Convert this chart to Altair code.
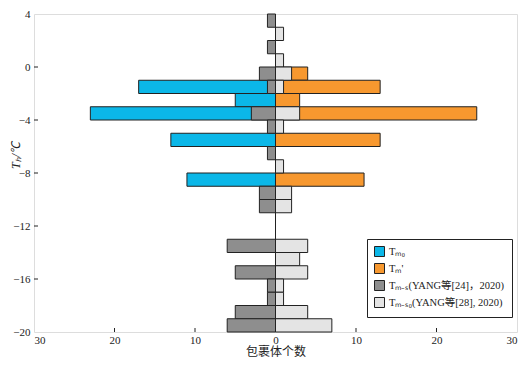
import altair as alt
import pandas as pd

# bin tops (each bin 1 °C tall: top -> top-1)
blue_tops = [-1, -2, -3, -5, -8]
blue_vals = [17, 5, 23, 13, 11]

orange_tops = [0, -1, -2, -3, -5, -8]
orange_vals = [4, 13, 3, 25, 13, 11]

dgray_tops = [4, 2, 0, -1, -3, -4, -6, -9, -10, -13, -15, -16, -17, -18, -19]
dgray_vals = [1, 1, 2, 1, 3, 1, 1, 2, 2, 6, 5, 1, 1, 5, 6]

lgray_tops = [3, 1, 0, -1, -3, -4, -7, -9, -10, -13, -14, -15, -16, -17, -18, -19]
lgray_vals = [1, 1, 2, 1, 3, 1, 1, 2, 2, 4, 3, 4, 1, 1, 4, 7]

names = ["Tₘ₀", "Tₘ'", "Tₘ₋ₛ(YANG等[24]，2020)", "Tₘ₋ₛ₀(YANG等[28], 2020)"]
colors = ["#0bb7e8", "#f7982f", "#8e8e8e", "#e4e4e4"]

x_ticks = [-30, -20, -10, 0, 10, 20, 30]
y_ticks = [4, 0, -4, -8, -12, -16, -20]

rows = []
for name, tops, vals, sign in [
    (names[0], blue_tops, blue_vals, -1),
    (names[1], orange_tops, orange_vals, 1),
    (names[2], dgray_tops, dgray_vals, -1),
    (names[3], lgray_tops, lgray_vals, 1),
]:
    for t, v in zip(tops, vals):
        rows.append({"series": name, "top": t, "bottom": t - 1, "x0": 0, "x1": sign * v})
df = pd.DataFrame(rows)

W, H = 483, 318
font = "Liberation Serif, Noto Sans CJK SC"

xscale = alt.Scale(domain=[-30, 30], nice=False, zero=False)
yscale = alt.Scale(domain=[-20, 4], nice=False, zero=False)

bars = alt.Chart(df).mark_bar(stroke="#222", strokeWidth=1, opacity=1).encode(
    x=alt.X("x0:Q", scale=xscale, stack=None,
            axis=alt.Axis(values=x_ticks, labelExpr="abs(datum.value)", title="包裹体个数",
                          ticks=False, grid=False, domain=False, labelPadding=2,
                          labelFont=font, labelFontSize=11, labelColor="#222",
                          titleFont=font, titleFontSize=12, titleFontWeight="normal",
                          titleColor="#222", titlePadding=1)),
    x2="x1:Q",
    y=alt.Y("top:Q", scale=yscale,
            axis=alt.Axis(values=y_ticks, title="Tₕ/℃", ticks=False, grid=False,
                          domain=False, labelPadding=4, labelFont=font, labelFontSize=11,
                          labelColor="#222", titleFont=font, titleFontSize=12,
                          titleFontWeight="normal", titleColor="#222", titleFontStyle="italic",
                          titleX=-12, titleY=141)),
    y2="bottom:Q",
    color=alt.Color("series:N", scale=alt.Scale(domain=names, range=colors),
                    legend=alt.Legend(title=None, orient="none", legendX=333, legendY=225,
                                      strokeColor="#222", padding=7, fillColor="white",
                                      symbolType="square", symbolSize=100,
                                      symbolStrokeColor="#222", symbolStrokeWidth=1,
                                      symbolOpacity=1, labelFont=font, labelFontSize=10.5,
                                      labelColor="#222", rowPadding=2, labelLimit=200)),
)

zero_df = pd.DataFrame({"x": [0]})
zero_line = alt.Chart(zero_df).mark_rule(color="#222", strokeWidth=1).encode(
    x=alt.X("x:Q", scale=xscale), y=alt.value(0), y2=alt.value(H)
)

xt = pd.DataFrame({"v": x_ticks[1:-1]})
xtick_marks = alt.Chart(xt).mark_rule(color="#222").encode(
    x=alt.X("v:Q", scale=xscale), y=alt.value(H), y2=alt.value(H - 4)
)
yt = pd.DataFrame({"v": y_ticks[1:-1]})
ytick_marks = alt.Chart(yt).mark_rule(color="#222").encode(
    y=alt.Y("v:Q", scale=yscale), x=alt.value(0), x2=alt.value(4)
)

chart = alt.layer(bars, zero_line, xtick_marks, ytick_marks).properties(
    width=W, height=H,
    autosize=alt.AutoSizeParams(type="none"),
    padding={"left": 26, "top": 6, "right": 6, "bottom": 27},
).configure_view(stroke="#333", strokeWidth=1.2).configure(background="white")

chart.save("out.html", embed_options={"renderer": "svg", "actions": False})
